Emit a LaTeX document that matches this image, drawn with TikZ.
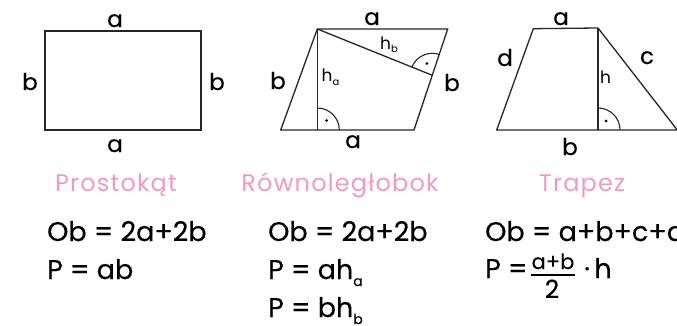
\documentclass[tikz,border=0pt]{standalone}
\usepackage{fontspec}
\setmainfont{Poppins}
\usetikzlibrary{calc}
\definecolor{pinkt}{HTML}{EF9BC3}
\begin{document}
\begin{tikzpicture}[x=1pt,y=-1pt,
  fig/.style={line width=1.3pt, line join=miter, draw=black!85},
  lbl/.style={font=\fontsize{23}{23}\selectfont\addfontfeature{FakeBold=0.3}, inner sep=0pt, anchor=base},
  hlbl/.style={font=\fontsize{17}{17}\selectfont, inner sep=0pt, anchor=base west},
  ttl/.style={font=\fontsize{24}{24}\selectfont\addfontfeature{LetterSpace=5}, text=pinkt, inner sep=0pt, anchor=base},
  frm/.style={font=\fontsize{27}{27}\selectfont\addfontfeature{FakeBold=0.3}, inner sep=0pt, anchor=base west},
  ra/.style={line width=1.1pt, draw=black!85}]
\useasboundingbox (0,0) rectangle (677,326);
% ---------- rectangle ----------
\coordinate (R1) at (45,31);
\coordinate (R2) at (201,31);
\coordinate (R3) at (201,130);
\coordinate (R4) at (45,130);
\draw[fig] (R1) -- (R2) -- (R3) -- (R4) -- cycle;
\node[lbl] (ra1) at (115,27) {a};
\node[lbl] (ra2) at (115,152) {a};
\node[lbl] (rb1) at (30,90) {b};
\node[lbl] (rb2) at (217,90) {b};
% ---------- parallelogram ----------
\coordinate (P1) at (317.3,29);
\coordinate (P2) at (447.7,29);
\coordinate (P3) at (414,130);
\coordinate (P4) at (280.7,130);
\coordinate (PF) at (317.3,130);
\coordinate (PG) at (432.3,75.3);
\draw[fig] (P1) -- (P2) -- (P3) -- (P4) -- cycle;
\draw[fig] (P1) -- (PF);
\draw[fig] (P1) -- (PG);
\draw[ra] (317.3,108) arc[start angle=-90, end angle=0, radius=22];
\fill (326.5,120.5) circle[radius=1.5];
\draw[ra] ($(PG)+(201.9:22)$) arc[start angle=201.9, end angle=288.4, radius=22];
\fill ($(PG)+(245:13)$) circle[radius=1.5];
\node[lbl] (pa1) at (372,25) {a};
\node[lbl] (pa2) at (353,148) {a};
\node[lbl] (pb1) at (278,89) {b};
\node[lbl] (pb2) at (452,91) {b};
\node[hlbl] (pha) at (321.5,82) {h\raisebox{-4pt}{\fontsize{10}{10}\selectfont a}};
\node[hlbl] (phb) at (380,50) {h\raisebox{-3pt}{\fontsize{10}{10}\selectfont b}};
% ---------- trapezoid ----------
\coordinate (T1) at (533.3,28.7);
\coordinate (T2) at (598,28);
\coordinate (T3) at (677.3,130);
\coordinate (T4) at (496.7,130);
\coordinate (TF) at (598,130);
\draw[fig] (T1) -- (T2) -- (T3) -- (T4) -- cycle;
\draw[fig] (T2) -- (TF);
\draw[ra] (598,108) arc[start angle=-90, end angle=0, radius=22];
\fill (606,121) circle[radius=1.5];
\node[lbl] (ta) at (561,25) {a};
\node[lbl] (td) at (505,66) {d};
\node[lbl] (tc) at (647,64) {c};
\node[hlbl] (th) at (600,84) {h};
\node[lbl] (tb) at (570,155) {b};
% ---------- titles ----------
\node[ttl] (t1) at (116,191) {Prostokąt};
\node[ttl] (t2) at (340,191) {Równoległobok};
\node[ttl] (t3) at (582,191) {Trapez};
% ---------- formulas ----------
\node[frm] (f11) at (47,241) {Ob = 2a+2b};
\node[frm] (f12) at (47,279) {P = ab};
\node[frm] (f21) at (268,241) {Ob = 2a+2b};
\node[frm] (f22) at (268,279) {P = ah\raisebox{-7pt}{\fontsize{14}{14}\selectfont a}};
\node[frm] (f23) at (268,317) {P = bh\raisebox{-7pt}{\fontsize{14}{14}\selectfont b}};
\node[frm] (f31) at (485,241) {Ob = a+b+c+d};
\node[frm] (f32) at (485,278) {P =};
\node[font=\fontsize{21}{21}\selectfont\addfontfeature{FakeBold=0.3}, inner sep=0pt, anchor=base] (fn) at (553,269) {a+b};
\node[font=\fontsize{25}{25}\selectfont\addfontfeature{FakeBold=0.3}, inner sep=0pt, anchor=base] (fd) at (552,298) {2};
\draw[line width=1.3pt] (531,275) -- (575,275);
\node[frm] (fh) at (584,278) {·\,h};
\end{tikzpicture}
\end{document}
